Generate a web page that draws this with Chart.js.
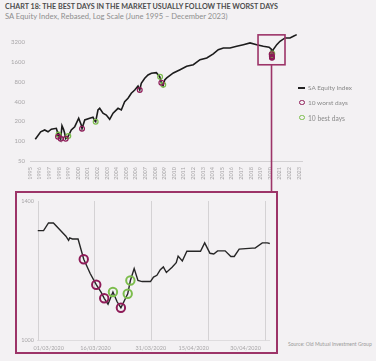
<!DOCTYPE html>
<html><head><meta charset="utf-8">
<script src="https://cdn.jsdelivr.net/npm/chart.js@4.4.1/dist/chart.umd.min.js"></script>
<style>
html,body{margin:0;padding:0;background:#f3f1f3;}
body{width:376px;height:361px;position:relative;overflow:hidden;font-family:Lato,"Open Sans",sans-serif;}
.t{position:absolute;white-space:nowrap;line-height:1;}
#title{left:5px;top:2.5px;font-weight:700;color:#4d4d4d;font-size:7.4px;}
#sub{left:5px;top:12.5px;color:#8e8e8e;font-size:7.5px;}
#topWrap{position:absolute;left:0;top:0;width:376px;height:192px;}
#box{position:absolute;left:15px;top:191px;width:259px;height:159px;border:2px solid #9c3468;}
#botWrap{position:absolute;left:17px;top:193px;width:259px;height:159px;}
.legtxt{color:#8a8a8a;font-size:6px;}
#legLine{position:absolute;left:298px;top:87.2px;width:7px;height:1.6px;background:#222;}
.legc{position:absolute;width:5.4px;height:5.4px;border-radius:50%;box-sizing:border-box;border:1.4px solid;}
#src{left:288px;top:341.5px;color:#9a9a9a;font-size:4.8px;}
</style></head>
<body>
<div class="t" id="title" data-w="273">CHART 18: THE BEST DAYS IN THE MARKET USUALLY FOLLOW THE WORST DAYS</div>
<div class="t" id="sub" data-w="223">SA Equity Index, Rebased, Log Scale (June 1995 – December 2023)</div>
<div id="topWrap"><canvas id="topC" width="376" height="192"></canvas></div>
<div id="box"></div>
<div id="botWrap"><canvas id="botC" width="259" height="159"></canvas></div>
<div id="legLine"></div>
<div class="t legtxt" style="left:308px;top:85px" data-w="44">SA Equity Index</div>
<div class="legc" style="left:299.3px;top:99.6px;border-color:#8e1c58"></div>
<div class="t legtxt" style="left:308px;top:99.5px" data-w="40">10 worst days</div>
<div class="legc" style="left:299.3px;top:114.6px;border-color:#7cbd4c"></div>
<div class="t legtxt" style="left:308px;top:114.5px" data-w="37">10 best days</div>
<div class="t" id="src" data-w="84">Source: Old Mutual Investment Group</div>
<script>
// ---------- DATA ----------
const indexYears = [1995.55,1996.11,1996.53,1996.88,1997.22,1997.74,1997.85,1997.92,1998.0,1998.09,1998.2,1998.33,1998.5,1998.61,1998.72,1998.85,1998.99,1999.30,1999.66,2000.07,2000.34,2000.42,2000.70,2001.22,2001.56,2001.74,2001.84,2002.08,2002.26,2002.60,2002.95,2003.30,2003.65,2004.17,2004.51,2004.86,2005.21,2005.55,2005.91,2006.25,2006.43,2006.59,2006.95,2007.29,2007.64,2008.16,2008.51,2008.68,2008.85,2009.03,2009.24,2009.93,2010.63,2011.32,2012.01,2012.71,2013.41,2014.09,2014.61,2015.14,2015.83,2016.53,2017.22,2017.92,2018.61,2019.30,2019.90,2020.13,2020.17,2020.20,2020.23,2020.34,2020.70,2021.04,2021.56,2022.08,2022.43,2022.78];
const indexValues = [107,139,148,139,152,157,139,117,130,124,109,172,150,132,109,112,120,148,166,223,176,155,210,223,231,205,198,298,316,266,250,215,266,316,298,399,449,535,600,691,600,759,904,1015,1077,1100,956,776,691,852,914,1089,1222,1376,1456,1734,1840,2117,2461,2612,2612,2772,2932,3112,2932,2772,2677,2500,2100,1850,2150,2461,2932,3302,3707,3707,3934,4161];
const worstYears = [1997.92,1998.2,1998.72,2000.42,2006.43,2008.68,2020.17,2020.19,2020.20,2020.21];
const worstValues = [117,109,109,155,600,776,2100,1950,1850,1880];
const bestYears = [1997.97,1998.99,2001.84,2008.55,2008.88,2020.21,2020.22,2020.23];
const bestValues = [126,120,198,950,720,1990,2060,2150];
const yearTicks = [1995,1996,1997,1998,1999,2000,2001,2002,2003,2004,2005,2006,2007,2008,2009,2010,2011,2012,2013,2014,2015,2016,2017,2018,2019,2020,2021,2022,2023];
const logTicks = [50,100,200,400,800,1600,3200];
const zoomWindow = {x0:2018.75, x1:2021.56, yTop:4130, yBottom:1450};

// Zoom: days since 01/03/2020
const crashDays = [0,1.6,2.9,4.2,6.2,7.5,8.2,8.5,9.2,10.7,12.2,13.9,15.5,16.8,17.6,18.6,19.9,21.0,22.0,23.8,24.5,25.5,26.5,27.6,29.8,30.6,31.5,32.4,33.2,34.0,35.5,36.6,37.1,38.2,39.4,43.0,44.1,45.5,46.5,47.5,49.5,51.0,51.9,53.2,56.7,57.4,59.3,60.6,61.8];
const crashValues = [1315,1315,1337,1337,1314,1299,1287,1294,1291,1291,1233,1192,1160,1138,1121,1104,1139,1111,1094,1134,1172,1206,1172,1169,1169,1182,1187,1203,1211,1195,1210,1223,1242,1228,1256,1256,1280,1250,1248,1257,1257,1241,1241,1262,1265,1265,1280,1280,1277];
const crashWorstDays = [12.2,15.5,17.6,22.0];
const crashWorstValues = [1233,1160,1121,1094];
const crashBestDays = [19.9,23.8,24.5];
const crashBestValues = [1139,1134,1172];
const crashGridDays = [0,15,30,45,60];
const crashLabelDays = [2.95,15.3,29.9,41.2,54.9];
const crashTickLabels = ['01/03/2020','16/03/2020','31/03/2020','15/04/2020','30/04/2020'];
const crashYTicks = [1000,1400];

// ---------- text fitting ----------
document.querySelectorAll('[data-w]').forEach(el=>{
  const target = parseFloat(el.dataset.w);
  const w = el.getBoundingClientRect().width;
  const fs = parseFloat(getComputedStyle(el).fontSize);
  if (w>0) el.style.fontSize = (fs*target/w)+'px';
});

const pts = (xs,ys)=>xs.map((x,i)=>({x, y:ys[i]}));
const FONT = 'Lato, "Open Sans", sans-serif';
const MAROON = '#8e1c58', GREEN = '#7cbd4c', BOXC = '#9c3468';

const zoomBoxPlugin = {
  id:'zoomBox',
  afterDraw(chart){
    const {ctx, scales:{x,y}} = chart;
    const l = x.getPixelForValue(zoomWindow.x0), r = x.getPixelForValue(zoomWindow.x1);
    const t = y.getPixelForValue(zoomWindow.yTop), b = y.getPixelForValue(zoomWindow.yBottom);
    ctx.save();
    ctx.strokeStyle = BOXC; ctx.lineWidth = 1.6;
    ctx.strokeRect(l, t, r-l, b-t);
    const cx = (l+r)/2;
    ctx.beginPath(); ctx.moveTo(cx, b); ctx.lineTo(cx, chart.height); ctx.stroke();
    ctx.restore();
  }
};

const dateGridPlugin = {
  id:'dateGrid',
  beforeDatasetsDraw(chart){
    const {ctx, chartArea:a, scales:{x}} = chart;
    ctx.save();
    ctx.strokeStyle = '#d4d2d4'; ctx.lineWidth = 1;
    crashGridDays.forEach(d=>{
      const px = Math.round(x.getPixelForValue(d)) + 0.5;
      ctx.beginPath(); ctx.moveTo(px, a.top); ctx.lineTo(px, a.bottom); ctx.stroke();
    });
    ctx.restore();
  }
};

const zeroPad = s => { s.paddingLeft = 0; s.paddingRight = 0; s.paddingTop = 0; s.paddingBottom = 0; };

new Chart(document.getElementById('topC'), {
  type:'scatter',
  data:{datasets:[
    {label:'10 worst days', data:pts(worstYears,worstValues), pointRadius:2.4, pointBorderWidth:1.2, borderColor:MAROON, backgroundColor:'rgba(0,0,0,0)', order:1},
    {label:'10 best days', data:pts(bestYears,bestValues), pointRadius:2.4, pointBorderWidth:1.2, borderColor:GREEN, backgroundColor:'rgba(0,0,0,0)', order:1},
    {label:'SA Equity Index', data:pts(indexYears,indexValues), showLine:true, borderColor:'#1c1c1c', borderWidth:1.6, pointRadius:0, tension:0, order:2}
  ]},
  options:{
    responsive:false, animation:false, devicePixelRatio:1,
    layout:{padding:{left:0,right:74,top:29.4,bottom:0}},
    plugins:{legend:{display:false}, tooltip:{enabled:false}},
    scales:{
      x:{type:'linear', min:1995, max:2023.33,
        afterBuildTicks:s=>{s.ticks = yearTicks.map(v=>({value:v}));},
        afterFit:s=>{s.height = 31; zeroPad(s);},
        grid:{display:false, drawTicks:false}, border:{display:true, color:'#d2d0d2', width:1},
        ticks:{minRotation:90, maxRotation:90, autoSkip:false, padding:6, color:'#a8a6a8', font:{size:5.5, family:FONT}, callback:v=>String(v)}},
      y:{type:'logarithmic', min:50, max:5000,
        afterBuildTicks:s=>{s.ticks = logTicks.map(v=>({value:v}));},
        afterFit:s=>{s.width = 30; zeroPad(s);},
        grid:{display:false, drawTicks:false}, border:{display:false},
        ticks:{padding:5, color:'#a8a6a8', font:{size:6, family:FONT}, callback:v=>String(v)}}
    }
  },
  plugins:[zoomBoxPlugin]
});

new Chart(document.getElementById('botC'), {
  type:'scatter',
  data:{datasets:[
    {label:'worst', data:pts(crashWorstDays,crashWorstValues), pointRadius:4.2, pointBorderWidth:2, borderColor:MAROON, backgroundColor:'rgba(0,0,0,0)', order:1},
    {label:'best', data:pts(crashBestDays,crashBestValues), pointRadius:4.2, pointBorderWidth:2, borderColor:GREEN, backgroundColor:'rgba(0,0,0,0)', order:1},
    {label:'SA Equity Index', data:pts(crashDays,crashValues), showLine:true, borderColor:'#262626', borderWidth:1.4, pointRadius:0, tension:0, order:2}
  ]},
  options:{
    responsive:false, animation:false, devicePixelRatio:1,
    layout:{padding:{left:0,right:0,top:8,bottom:0}},
    plugins:{legend:{display:false}, tooltip:{enabled:false}},
    scales:{
      x:{type:'linear', min:0, max:61.28,
        afterBuildTicks:s=>{s.ticks = crashLabelDays.map(v=>({value:v}));},
        afterFit:s=>{s.height = 11.5; zeroPad(s);},
        grid:{display:false, drawTicks:false}, border:{display:true, color:'#dedcde'},
        ticks:{maxRotation:0, minRotation:0, autoSkip:false, padding:4, color:'#a8a6a8', font:{size:5.5, family:FONT},
          callback:(v,i)=>crashTickLabels[i]}},
      y:{type:'linear', min:1000, max:1400,
        afterBuildTicks:s=>{s.ticks = crashYTicks.map(v=>({value:v}));},
        afterFit:s=>{s.width = 20.5; zeroPad(s);},
        grid:{display:false, drawTicks:false}, border:{display:false},
        ticks:{padding:3.5, color:'#a8a6a8', font:{size:5.5, family:FONT}, callback:v=>String(v)}}
    }
  },
  plugins:[dateGridPlugin]
});
</script>
</body></html>
